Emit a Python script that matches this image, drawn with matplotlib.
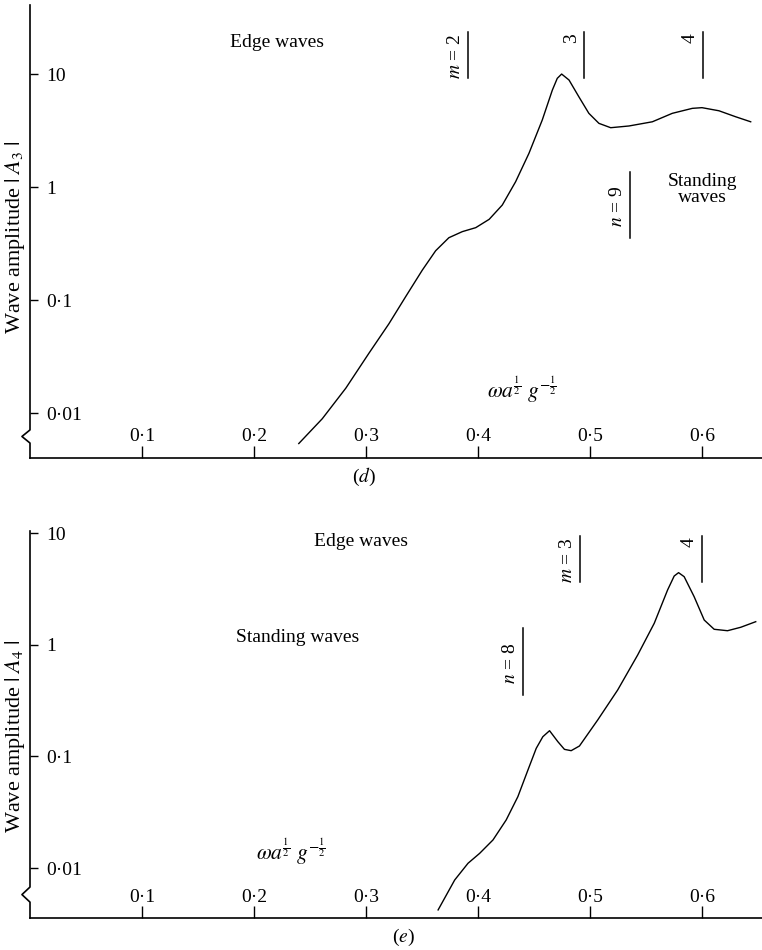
import numpy as np
import matplotlib.pyplot as plt
from matplotlib.lines import Line2D
from matplotlib.ticker import NullLocator

plt.rcParams['font.family'] = ['Liberation Serif', 'DejaVu Serif']
plt.rcParams['mathtext.fontset'] = 'stix'

# panel (d): wave amplitude |A3| against frequency
freq_d = [0.240, 0.261, 0.282, 0.3027, 0.3205, 0.3354, 0.3503, 0.3622, 0.374,
          0.386, 0.398, 0.410, 0.4217, 0.4336, 0.4455, 0.4574, 0.4664, 0.4708,
          0.4747, 0.4813, 0.490, 0.499, 0.508, 0.5185, 0.5348, 0.5557, 0.5735,
          0.5914, 0.600, 0.6152, 0.630, 0.6435]
amp_d = [0.00537, 0.00891, 0.0166, 0.0339, 0.0617, 0.107, 0.184, 0.273, 0.356,
         0.403, 0.437, 0.518, 0.693, 1.114, 1.986, 3.92, 7.21, 9.16,
         10.0, 8.85, 6.31, 4.49, 3.66, 3.35, 3.47, 3.78, 4.49,
         4.97, 5.04, 4.73, 4.19, 3.78]

# panel (e): wave amplitude |A4|
freq_e = [0.3644, 0.3792, 0.3911, 0.4015, 0.4134, 0.4252, 0.4356, 0.4446, 0.452,
          0.4579, 0.4639, 0.4713, 0.4772, 0.4832, 0.4906, 0.5069, 0.5247, 0.5426,
          0.5574, 0.5693, 0.5752, 0.5791, 0.5841, 0.593, 0.602, 0.6109, 0.6228,
          0.6346, 0.648]
amp_e = [0.00422, 0.00782, 0.01104, 0.01355, 0.01786, 0.02698, 0.04355, 0.0755, 0.118,
         0.150, 0.1698, 0.1355, 0.1156, 0.1125, 0.1239, 0.2118, 0.3926, 0.8091,
         1.556, 3.090, 4.121, 4.416, 4.064, 2.692, 1.663, 1.374, 1.334,
         1.432, 1.607]

xticks = [0.1, 0.2, 0.3, 0.4, 0.5, 0.6]
xtick_labels = ['0·1', '0·2', '0·3', '0·4', '0·5', '0·6']
yticks = [0.01, 0.1, 1, 10]
ytick_labels = ['0·01', '0·1', '1', '10']

# cut-off frequencies marked above the curves
edge_d = [0.391, 0.495, 0.601]
edge_d_labels = ['$m$ = 2', '3', '4']
stand_d = [0.536]
stand_d_labels = ['$n$ = 9']
edge_e = [0.491, 0.600]
edge_e_labels = ['$m$ = 3', '4']
stand_e = [0.440]
stand_e_labels = ['$n$ = 8']

FS = 14
xlab = r'$\omega a^{\frac{1}{2}}\ g^{-\frac{1}{2}}$'


def setup(ax, ylo, yhi, brk):
    ax.set_yscale('log')
    ax.set_xlim(0, 0.6536)
    ax.set_ylim(ylo, yhi)
    for s in ['top', 'right', 'left']:
        ax.spines[s].set_visible(False)
    ax.spines['bottom'].set_linewidth(1.2)
    ax.set_xticks(xticks)
    ax.set_xticklabels(xtick_labels, fontsize=FS)
    ax.set_yticks(yticks)
    ax.set_yticklabels(ytick_labels, fontsize=FS)
    ax.yaxis.set_minor_locator(NullLocator())
    ax.tick_params(axis='x', direction='in', length=8.5, width=1, pad=-9)
    ax.tick_params(axis='y', direction='in', length=6, width=1, pad=-12)
    for l in ax.get_xticklabels():
        l.set_va('bottom')
    for l in ax.get_yticklabels():
        l.set_ha('left')
    # y axis with a break near the bottom
    ax.add_line(Line2D([0, 0, -0.011, 0, 0], [1, brk[0], (brk[0] + brk[1]) / 2, brk[1], 0],
                       transform=ax.transAxes, clip_on=False, color='black', lw=1.2))


def marks(ax, xs, labels, y0, y1, centred=False):
    tr = ax.get_xaxis_transform()
    for xv, lab in zip(xs, labels):
        ax.plot([xv, xv], [y0, y1], transform=tr, color='black', lw=1.1)
        ypos = (y0 + y1) / 2 if centred else y1
        ax.annotate(lab, xy=(xv, ypos), xycoords=tr, xytext=(-3, -1),
                    textcoords='offset points', rotation=90, ha='right',
                    va='center' if centred else 'top', fontsize=FS)


fig = plt.figure(figsize=(7.62, 9.5), dpi=100)

# ---- (d) ----
ax1 = fig.add_axes([30 / 762, 492 / 950, 732 / 762, 453 / 950])
setup(ax1, 10 ** -2.398, 10 ** 1.611, (0.062, 0.033))
ax1.plot(freq_d, amp_d, color='black', lw=1.0)
marks(ax1, edge_d, edge_d_labels, 0.839, 0.940)
marks(ax1, stand_d, stand_d_labels, 0.486, 0.631, centred=True)
ax1.text(0.337, 0.918, 'Edge waves', transform=ax1.transAxes, ha='center',
         va='center', fontsize=FS)
ax1.text(0.919, 0.592, 'Standing\nwaves', transform=ax1.transAxes, ha='center',
         va='center', fontsize=FS, linespacing=0.95)
ax1.text(0.672, 0.150, xlab, transform=ax1.transAxes, ha='center',
         va='center', fontsize=15.5)
fig.text(0.020, 0.7505, r'Wave amplitude $|\;\mathbf{\mathit{A}}_3\;|$', rotation=90,
         ha='center', va='center', fontsize=16)
fig.text(0.478, 0.498, '($d$)', ha='center', va='center', fontsize=FS)

# ---- (e) ----
ax2 = fig.add_axes([30 / 762, 32 / 950, 732 / 762, 387 / 950])
setup(ax2, 10 ** -2.447, 10 ** 1.018, (0.080, 0.041))
ax2.plot(freq_e, amp_e, color='black', lw=1.0)
marks(ax2, edge_e, edge_e_labels, 0.868, 0.987)
marks(ax2, stand_e, stand_e_labels, 0.576, 0.749, centred=True)
ax2.text(0.452, 0.972, 'Edge waves', transform=ax2.transAxes, ha='center',
         va='center', fontsize=FS)
ax2.text(0.365, 0.726, 'Standing waves', transform=ax2.transAxes, ha='center',
         va='center', fontsize=FS)
ax2.text(0.357, 0.171, xlab, transform=ax2.transAxes, ha='center',
         va='center', fontsize=15.5)
fig.text(0.020, 0.2253, r'Wave amplitude $|\;\mathbf{\mathit{A}}_4\;|$', rotation=90,
         ha='center', va='center', fontsize=16)
fig.text(0.529, 0.002, '($e$)', ha='center', va='bottom', fontsize=FS)

fig.savefig('out.png', dpi=100)
